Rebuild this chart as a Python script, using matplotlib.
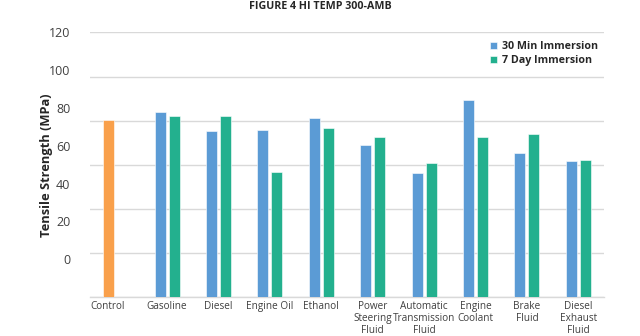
import matplotlib
matplotlib.use("Agg")
import matplotlib.pyplot as plt
import matplotlib.transforms as mtransforms
import numpy as np

plt.rcParams['font.family'] = ['Open Sans', 'DejaVu Sans']

categories = ['Control', 'Gasoline', 'Diesel', 'Engine Oil', 'Ethanol',
              'Power\nSteering\nFluid', 'Automatic\nTransmission\nFluid',
              'Engine\nCoolant', 'Brake\nFluid', 'Diesel\nExhaust\nFluid']
control_value = 80.5
min30_values = [83.7, 75.1, 75.8, 81.1, 68.8, 56.2, 89.3, 65.3, 61.7]
day7_values = [81.9, 81.9, 56.8, 76.5, 72.7, 60.6, 72.8, 73.9, 62.0]
ytick_labels = ['0', '20', '40', '60', '80', '100', '120']

blue = '#5B9BD5'
green = '#23B08E'
orange = '#F9A04B'

fig = plt.figure(figsize=(6.4, 3.36), dpi=100)
ax = fig.add_axes([0.1406, 0.1152, 0.8032, 0.7888])

x = np.arange(len(categories))
w = 0.215
off = 0.137
ax.bar(x[0] - off, control_value, w, color=orange, edgecolor='white', linewidth=0.4, zorder=3)
ax.bar(x[1:] - off, min30_values, w, color=blue, edgecolor='white', linewidth=0.4,
       label='30 Min Immersion', zorder=3)
ax.bar(x[1:] + off, day7_values, w, color=green, edgecolor='white', linewidth=0.4,
       label='7 Day Immersion', zorder=3)

ax.set_xlim(-0.5, len(categories) - 0.5)
ax.set_ylim(0, 120)

# gridlines on the real scale, labels drawn offset like the source
ax.set_yticks(np.arange(0, 121, 20))
ax.set_yticklabels([])
ax.yaxis.grid(True, color='#D9D9D9', linewidth=1.0, zorder=0)
ax.tick_params(axis='y', which='major', length=0)
label_pos = [17.2 + 0.857 * float(v) for v in ytick_labels]
ax.set_yticks(label_pos, ytick_labels, minor=True)
ax.tick_params(axis='y', which='minor', length=0, pad=14, labelsize=9, labelcolor='#404040')

ax.set_xticks(x, categories)
ax.tick_params(axis='x', length=0, pad=3, labelsize=7.2, labelcolor='#404040')
for lbl in ax.get_xticklabels():
    lbl.set_linespacing(1.08)
    lbl.set_verticalalignment('top')
# the Control label sits a little left in the source
ctl = ax.get_xticklabels()[0]
ctl.set_transform(ctl.get_transform() + mtransforms.ScaledTranslation(-0.08, 0, fig.dpi_scale_trans))

for s in ['top', 'right', 'left']:
    ax.spines[s].set_visible(False)
ax.spines['bottom'].set_color('#D9D9D9')
ax.spines['bottom'].set_linewidth(1.0)

ax.set_ylabel('Tensile Strength (MPa)', fontsize=9.3, fontweight='bold', color='#262626')
ax.yaxis.set_label_coords(-0.072, 0.5)

fig.suptitle('FIGURE 4 HI TEMP 300-AMB', fontsize=7.7, fontweight='bold', color='#262626', y=0.997)

leg = ax.legend(loc='upper right', bbox_to_anchor=(1.0, 0.99), frameon=False, fontsize=7.7,
                handlelength=0.7, handleheight=0.7, handletextpad=0.4, labelspacing=0.25,
                borderaxespad=0.2)
for t in leg.get_texts():
    t.set_fontweight('bold')
    t.set_color('#262626')

fig.savefig('out.png', dpi=100)
